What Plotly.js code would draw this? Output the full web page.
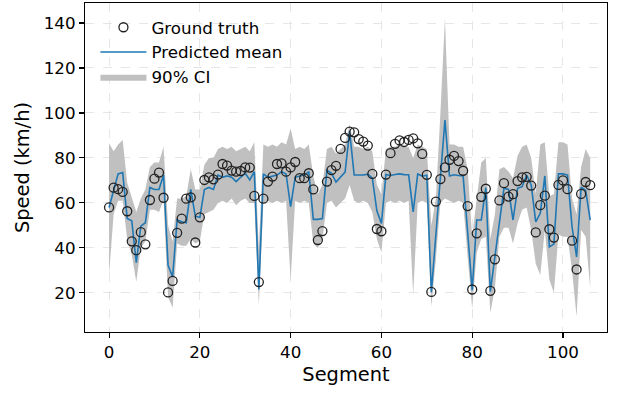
<!DOCTYPE html>
<html>
<head>
<meta charset="utf-8">
<script src="https://cdn.plot.ly/plotly-3.0.1.min.js"></script>
<style>html,body{margin:0;padding:0;background:#fff;}#chart{width:618px;height:393px;}</style>
</head>
<body>
<div id="chart"></div>
<script>
const segments = Array.from({length: 107}, (_, i) => i);

const groundTruth = [58.0,66.8,66.1,64.9,56.3,42.9,39.0,47.0,41.6,61.3,
70.8,73.5,62.3,20.2,25.3,46.7,53.0,61.9,62.5,42.4,
53.6,70.2,71.4,70.5,72.6,77.3,76.6,74.4,73.9,74.2,
75.8,75.7,63.1,24.8,61.9,69.5,71.7,77.3,77.6,73.9,
75.8,78.2,71.0,71.0,73.2,66.0,43.5,47.5,69.5,74.6,
76.5,84.0,88.9,91.7,91.4,88.4,87.3,85.5,72.9,48.4,
47.4,72.6,82.1,86.3,87.8,87.1,88.0,88.7,86.5,81.8,
72.5,20.4,60.6,70.6,75.8,79.2,80.9,78.6,74.3,58.6,
21.5,46.5,62.7,66.3,20.9,34.9,61.1,68.8,62.8,63.9,
69.7,71.4,71.6,67.7,46.9,59.0,63.2,48.3,44.6,68.0,
70.0,66.1,43.2,30.4,64.0,69.3,67.9];

const predMean = [58.0,65.7,72.9,73.5,53.1,52.1,33.4,49.7,51.2,66.9,
66.0,66.0,72.4,32.3,27.1,52.4,51.6,51.2,66.0,54.0,
53.6,66.0,66.9,66.0,72.4,71.4,72.0,71.4,69.5,71.4,
73.2,70.2,73.9,21.5,72.9,71.4,72.0,72.4,73.9,72.9,
58.3,71.4,72.0,72.4,73.9,52.7,52.7,53.0,74.6,73.2,
69.3,71.5,73.7,91.7,72.4,72.4,72.4,72.8,71.0,56.5,
50.9,72.6,72.2,72.6,72.9,72.6,72.5,56.0,72.9,71.9,
72.3,20.3,45.0,71.0,96.9,72.0,72.5,72.2,72.0,47.0,
21.2,52.4,52.4,66.8,20.5,36.0,52.0,66.5,66.0,52.4,
66.5,67.2,72.4,68.0,51.6,55.4,72.0,40.5,41.7,72.9,
72.9,72.4,49.4,36.0,67.0,65.5,52.4];

const ciUpper = [86.5,83,86,88,69,63,56,62,66,76,
78,78,85,50,43,62,62,63,75,66,
66,77,80,80,84,85,84,85,83,84,
85,83,87,40,86,85,86,85,87,86,
93,84,85,84,86,72,64,68,84,85,
82,84,86,95,85,85,84,85,83,68,
64,84,85,85,86,85,85,80,86,85,
84,50,62,100,142,86,86,85,85,75,
45,62,78,80,44,55,75,76,74,71,
81,85,86,80,64,86,87,63,64,87,
87,86,62,55,76,84,80];

const ciLower = [28,55,61,61,44,37,25,40,43,57,
57,56,61,18,13.5,42,41,41,44,42,
43,55,56,57,60,61,60,62,59,61,
62,60,60,14.5,60,61,60,61,60,61,
25.7,61,60,61,60,42,40,44,60,61,
58,60,62,68,61,60,61,60,56,44,
38,60,61,60,61,60,61,19,60,61,
60,13.8,35,60,62,61,60,61,60,36,
13,38,44,45,11,22,45,49,49,42,
51,57,58,48,33,28,48,26,20,46,
45,45,30,9.5,48,45,22];

const xTicks = [0,20,40,60,80,100];
const yTicks = [20,40,60,80,100,120,140];

const FONT = 'DejaVu Sans, sans-serif';

const gtTrace = {x: segments, y: groundTruth, type: 'scatter', mode: 'markers',
   marker: {symbol: 'circle-open', size: 9, color: '#222', line: {width: 1.3, color: '#222'}},
   name: 'Ground truth', legendrank: 1};
const meanTrace = {x: segments, y: predMean, type: 'scatter', mode: 'lines',
   line: {color: '#1f77b4', width: 1.6}, name: 'Predicted mean', legendrank: 2};
const lowerTrace = {x: segments, y: ciLower, type: 'scatter', mode: 'lines',
   line: {width: 0, color: 'rgba(0,0,0,0)'}, showlegend: false, hoverinfo: 'skip'};
const upperTrace = {x: segments, y: ciUpper, type: 'scatter', mode: 'lines', fill: 'tonexty',
   fillcolor: 'rgb(192,192,192)', line: {width: 0, color: 'rgba(0,0,0,0)'},
   name: '90% CI', legendrank: 3};

const axisCommon = {
  showline: true, linecolor: '#000', linewidth: 1.1, mirror: true,
  ticks: 'outside', ticklen: 5, tickwidth: 1.1, tickcolor: '#000',
  tickfont: {family: FONT, size: 16.7, color: '#000'},
  showgrid: true, gridcolor: '#e0e0e0', griddash: 'dash', gridwidth: 0.8,
  zeroline: false, automargin: false
};

const layout = {
  width: 618, height: 393,
  margin: {l: 85, r: 11, t: 3, b: 61, pad: 0},
  paper_bgcolor: '#fff', plot_bgcolor: '#fff',
  font: {family: FONT, color: '#000'},
  showlegend: true,
  legend: {x: 0.02, y: 0.979, xanchor: 'left', yanchor: 'top', traceorder: 'normal',
    itemwidth: 46,
    bgcolor: 'rgba(255,255,255,0)', borderwidth: 0,
    font: {family: FONT, size: 16.7, color: '#000'}, tracegroupgap: 0},
  xaxis: Object.assign({}, axisCommon, {
    range: [-5.3, 109.7], tickvals: xTicks, ticktext: xTicks.map(String),
    title: {text: 'Segment', font: {family: FONT, size: 19.4, color: '#000'}, standoff: 6}
  }),
  yaxis: Object.assign({}, axisCommon, {
    range: [2.6, 148.9], tickvals: yTicks, ticktext: yTicks.map(String),
    title: {text: 'Speed (km/h)', font: {family: FONT, size: 19.4, color: '#000'}, standoff: 8}
  })
};

Plotly.newPlot('chart', [lowerTrace, upperTrace, meanTrace, gtTrace], layout,
  {displayModeBar: false, staticPlot: true});
</script>
</body>
</html>
